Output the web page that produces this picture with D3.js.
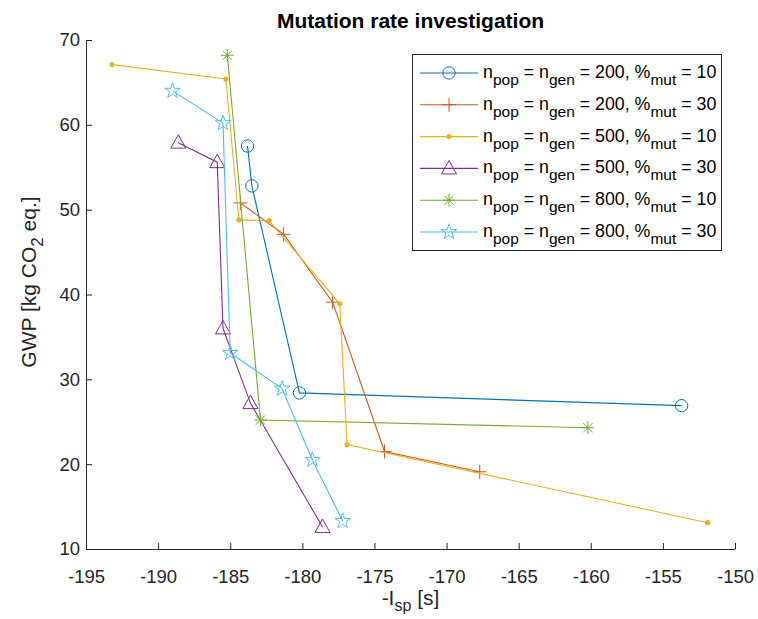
<!DOCTYPE html>
<html>
<head>
<meta charset="utf-8">
<script src="https://cdn.jsdelivr.net/npm/d3@7"></script>
<style>
  html, body { margin: 0; padding: 0; background: #fff; }
  svg { display: block; font-family: "Liberation Sans", Arial, Helvetica, sans-serif; }
</style>
</head>
<body>
<svg id="chart" width="758" height="619"></svg>
<script>
// Pareto fronts for each population/generation size and mutation rate
const series = [
  { pop: 200, mut: 10, color: "#0072BD", marker: "circle",
    x: [-183.8, -183.5, -180.2, -153.7],
    y: [57.5, 52.8, 28.4, 26.9] },
  { pop: 200, mut: 30, color: "#D95319", marker: "plus",
    x: [-184.3, -181.3, -177.9, -174.3, -167.7],
    y: [50.8, 47.1, 39.1, 21.5, 19.1] },
  { pop: 500, mut: 10, color: "#EDB120", marker: "dot",
    x: [-193.2, -185.3, -184.4, -182.3, -177.4, -176.9, -151.9],
    y: [67.1, 65.4, 48.8, 48.7, 38.9, 22.3, 13.1] },
  { pop: 500, mut: 30, color: "#7E2F8E", marker: "triangle",
    x: [-188.6, -185.9, -185.5, -183.6, -178.6],
    y: [57.9, 55.6, 36.0, 27.2, 12.6] },
  { pop: 800, mut: 10, color: "#77AC30", marker: "asterisk",
    x: [-185.2, -182.9, -160.2],
    y: [68.2, 25.2, 24.3] },
  { pop: 800, mut: 30, color: "#4DBEEE", marker: "star",
    x: [-189.0, -185.5, -185.0, -181.4, -179.3, -177.2],
    y: [64.0, 60.2, 33.1, 28.9, 20.5, 13.3] }
];

const xTicks = [-195, -190, -185, -180, -175, -170, -165, -160, -155, -150];
const yTicks = [10, 20, 30, 40, 50, 60, 70];

const svg = d3.select("#chart");
const plot = { left: 86, right: 735, top: 40, bottom: 549 };

const x = d3.scaleLinear().domain([-195, -150]).range([plot.left, plot.right]);
const y = d3.scaleLinear().domain([10, 70]).range([plot.bottom, plot.top]);

const axisColor = "#262626";
const fmt = d => String(d);

// Axes with inward ticks
const gx = svg.append("g").attr("transform", `translate(0,${plot.bottom})`)
  .call(d3.axisBottom(x).tickValues(xTicks).tickFormat(fmt)
    .tickSizeInner(-6).tickSizeOuter(0).tickPadding(21));
const gy = svg.append("g").attr("transform", `translate(${plot.left},0)`)
  .call(d3.axisLeft(y).tickValues(yTicks).tickFormat(fmt)
    .tickSizeInner(-6).tickSizeOuter(0).tickPadding(6));
[gx, gy].forEach(g => {
  g.selectAll(".domain").attr("stroke", axisColor).attr("stroke-width", 1);
  g.selectAll(".tick line").attr("stroke", axisColor).attr("stroke-width", 1);
  g.selectAll(".tick text").attr("fill", axisColor).attr("font-size", 18.5)
    .attr("font-family", "Liberation Sans, Arial, sans-serif");
});

// Marker shapes
function markerPath(type) {
  switch (type) {
    case "circle": return d3.symbol(d3.symbolCircle, 120)();
    case "triangle": return "M0,-8L7.5,5.5L-7.5,5.5Z";
    case "star": return d3.symbol(d3.symbolStar, 75)();
    case "plus": return "M-7,0H7M0,-7V7";
    case "asterisk": return "M-6.5,0H6.5M0,-6.5V6.5M-4.6,-4.6L4.6,4.6M-4.6,4.6L4.6,-4.6";
    default: return null;
  }
}
function drawMarker(g, type, color) {
  if (type === "dot") {
    g.append("circle").attr("r", 2.6).attr("fill", color);
  } else {
    g.append("path").attr("d", markerPath(type))
      .attr("fill", "none").attr("stroke", color).attr("stroke-width", 1);
  }
}

const line = d3.line().x(d => x(d[0])).y(d => y(d[1]));

series.forEach(s => {
  const pts = s.x.map((v, i) => [v, s.y[i]]);
  svg.append("path").datum(pts).attr("d", line)
    .attr("fill", "none").attr("stroke", s.color).attr("stroke-width", 1.1);
  pts.forEach(p => {
    const g = svg.append("g").attr("transform", `translate(${x(p[0])},${y(p[1])})`);
    drawMarker(g, s.marker, s.color);
  });
});

// Title
svg.append("text").attr("x", (plot.left + plot.right) / 2).attr("y", 28)
  .attr("text-anchor", "middle").attr("font-weight", "bold").attr("font-size", 21)
  .attr("fill", "#000").text("Mutation rate investigation");

// Text with subscripts
function subText(sel, parts, size, subSize, shift) {
  parts.forEach(p => {
    if (p.sub) {
      sel.append("tspan").attr("font-size", subSize).attr("dy", shift).text(p.t);
    } else {
      sel.append("tspan").attr("font-size", size).attr("dy", p.after ? -shift : 0).text(p.t);
    }
  });
}

const xl = svg.append("text").attr("x", (plot.left + plot.right) / 2).attr("y", 605)
  .attr("text-anchor", "middle").attr("fill", axisColor);
subText(xl, [{ t: "-I" }, { t: "sp", sub: true }, { t: " [s]", after: true }], 21, 16, 6);

const yl = svg.append("text")
  .attr("transform", `translate(36,282) rotate(-90)`)
  .attr("text-anchor", "middle").attr("fill", axisColor);
subText(yl, [{ t: "GWP [kg CO" }, { t: "2", sub: true }, { t: " eq.]", after: true }], 21, 17, 7);

// Legend
const leg = svg.append("g");
leg.append("rect").attr("x", 412.5).attr("y", 54.5).attr("width", 309).attr("height", 196)
  .attr("fill", "#fff").attr("stroke", axisColor).attr("stroke-width", 1);
series.forEach((s, i) => {
  const cy = 73 + i * 31.8;
  leg.append("line").attr("x1", 420).attr("x2", 478).attr("y1", cy).attr("y2", cy)
    .attr("stroke", s.color).attr("stroke-width", 1.1);
  const g = leg.append("g").attr("transform", `translate(449,${cy})`);
  drawMarker(g, s.marker, s.color);
  const t = leg.append("text").attr("x", 483).attr("y", cy + 5).attr("fill", "#000");
  subText(t, [
    { t: "n" }, { t: "pop", sub: true },
    { t: " = n", after: true }, { t: "gen", sub: true },
    { t: ` = ${s.pop}, %`, after: true }, { t: "mut", sub: true },
    { t: ` = ${s.mut}`, after: true }
  ], 17.8, 15.5, 7);
});
</script>
</body>
</html>
